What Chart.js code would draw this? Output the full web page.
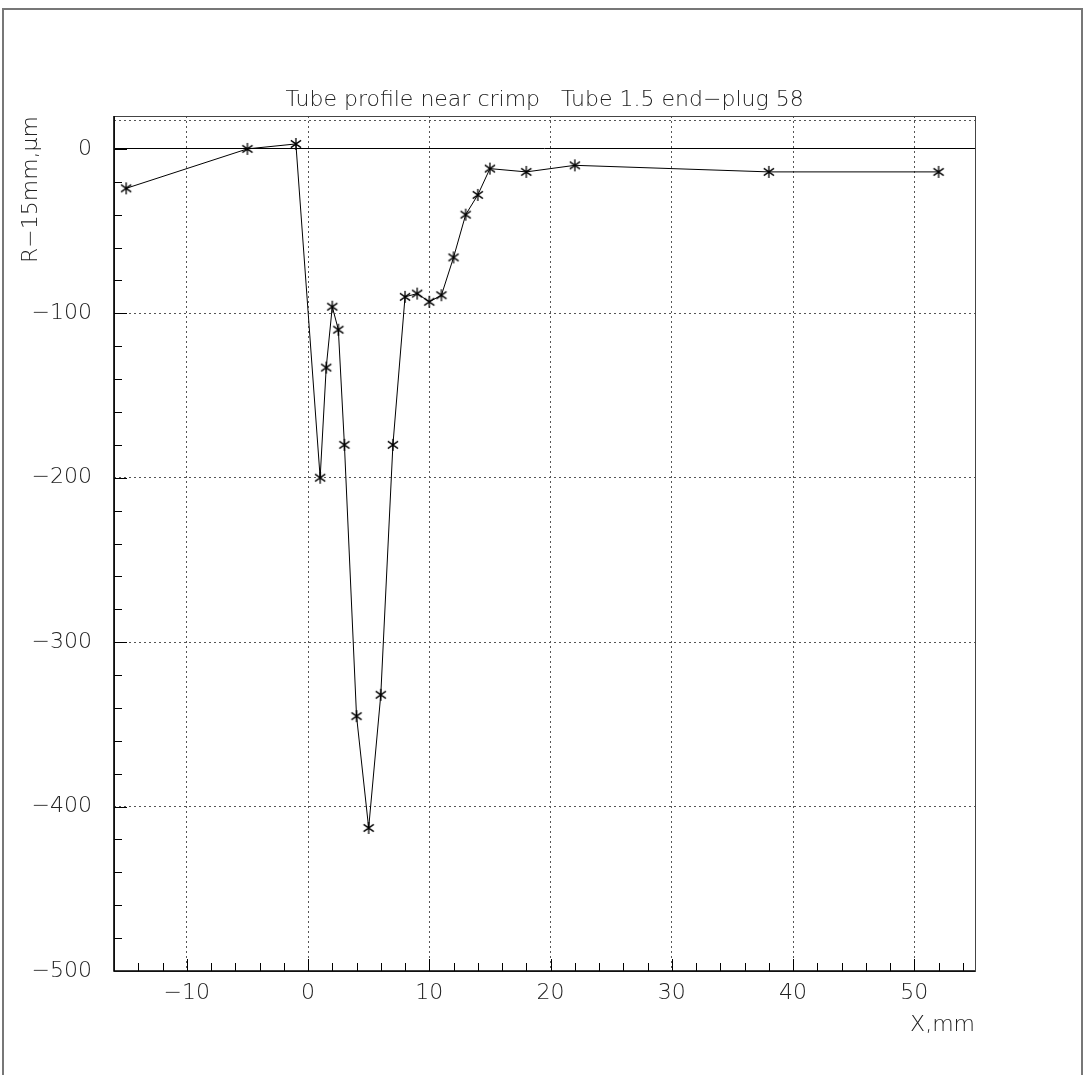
<!DOCTYPE html>
<html>
<head>
<meta charset="utf-8">
<script src="https://cdn.jsdelivr.net/npm/chart.js@4.4.0/dist/chart.umd.min.js"></script>
<style>
  html, body { margin: 0; padding: 0; background: #fff; }
  canvas { display: block; }
</style>
</head>
<body>
<canvas id="chart" width="1085" height="1075"></canvas>
<script>
const xValues = [-15, -5, -1, 1, 1.5, 2, 2.5, 3, 4, 5, 6, 7, 8, 9, 10, 11, 12, 13, 14, 15, 18, 22, 38, 52];
const yValues = [-24, 0, 3, -200, -133, -96, -110, -180, -345, -413, -332, -180, -90, -88, -93, -89, -66, -40, -28, -12, -14, -10, -14, -14];

const xTickLabels = [-10, 0, 10, 20, 30, 40, 50];
const yTickLabels = [0, -100, -200, -300, -400, -500];

const titleText = 'Tube profile near crimp   Tube 1.5 end\u2212plug 58';
const xTitle = 'X,mm';
const yTitle = 'R\u221215mm,\u03bcm';

const FONT = 'DejaVu Sans';
const WEIGHT = 200;
const SIZE = 22;

// asterisk marker: vertical bar + X
function makeStar(r) {
  const c = document.createElement('canvas');
  c.width = c.height = 2 * r + 2;
  const g = c.getContext('2d');
  const m = r + 1;
  g.strokeStyle = '#000';
  g.lineWidth = 1.3;
  g.beginPath();
  g.moveTo(m, m - r); g.lineTo(m, m + r);
  const dx = r * 0.85, dy = r * 0.6;
  g.moveTo(m - dx, m - dy); g.lineTo(m + dx, m + dy);
  g.moveTo(m - dx, m + dy); g.lineTo(m + dx, m - dy);
  g.stroke();
  return c;
}
const star = makeStar(6);

const framePlugin = {
  id: 'frame',
  beforeDraw(chart) {
    const g = chart.ctx;
    g.save();
    g.fillStyle = '#fff';
    g.fillRect(0, 0, chart.width, chart.height);
    g.strokeStyle = '#777';
    g.lineWidth = 2;
    g.beginPath();
    g.moveTo(3, chart.height + 5);
    g.lineTo(3, 9);
    g.lineTo(1082, 9);
    g.lineTo(1082, chart.height + 5);
    g.stroke();
    g.restore();
  },
  beforeDatasetsDraw(chart) {
    // dotted line just under the top frame
    const g = chart.ctx;
    const a = chart.chartArea;
    g.save();
    g.strokeStyle = '#555';
    g.lineWidth = 1;
    g.setLineDash([2, 3]);
    g.beginPath();
    g.moveTo(a.left, a.top + 4.5); g.lineTo(a.right, a.top + 4.5);
    g.stroke();
    g.restore();
  },
  afterDraw(chart) {
    const g = chart.ctx;
    const a = chart.chartArea;
    const xs = chart.scales.x, ys = chart.scales.y;
    g.save();
    // plot box
    g.strokeStyle = '#444';
    g.lineWidth = 1;
    g.strokeRect(a.left + 0.5, a.top + 0.5, a.right - a.left, a.bottom - a.top);
    g.strokeStyle = '#000';
    g.lineWidth = 1.6;
    g.beginPath();
    g.moveTo(a.left, a.top); g.lineTo(a.left, a.bottom); g.lineTo(a.right, a.bottom);
    g.stroke();
    // inward tick marks
    g.lineWidth = 1;
    g.beginPath();
    for (let v = -14; v <= 54; v += 2) {
      const p = Math.round(xs.getPixelForValue(v)) + 0.5;
      const len = v % 10 === 0 ? 12 : 8;
      g.moveTo(p, a.bottom); g.lineTo(p, a.bottom - len);
    }
    for (let v = 0; v >= -480; v -= 20) {
      const p = Math.round(ys.getPixelForValue(v)) + 0.5;
      const len = v % 100 === 0 ? 13 : 8;
      g.moveTo(a.left, p); g.lineTo(a.left + len, p);
    }
    g.stroke();
    // title
    g.fillStyle = '#222';
    g.font = WEIGHT + ' ' + SIZE + 'px "' + FONT + '"';
    g.textAlign = 'center';
    g.textBaseline = 'alphabetic';
    g.fillText(titleText, (a.left + a.right) / 2, a.top - 10);
    g.restore();
  }
};

const labelFont = { family: FONT, size: SIZE, weight: WEIGHT };

new Chart(document.getElementById('chart'), {
  type: 'scatter',
  data: {
    datasets: [{
      data: xValues.map((x, i) => ({ x: x, y: yValues[i] })),
      showLine: true,
      borderColor: '#000',
      borderWidth: 1,
      pointStyle: star,
      pointRadius: 6,
      pointHoverRadius: 6
    }]
  },
  options: {
    responsive: false,
    animation: false,
    events: [],
    layout: { padding: { left: 0, right: 110, top: 116, bottom: 0 } },
    plugins: { legend: { display: false }, tooltip: { enabled: false }, title: { display: false } },
    scales: {
      x: {
        type: 'linear',
        min: -16, max: 55,
        afterBuildTicks: s => { s.ticks = xTickLabels.map(v => ({ value: v })); },
        afterFit: s => { s.height = 104; },
        ticks: {
          color: '#222', padding: 9, maxRotation: 0,
          font: labelFont,
          callback: v => (v < 0 ? '\u2212' + Math.abs(v) : String(v))
        },
        grid: { color: '#555', lineWidth: 1, drawTicks: false },
        border: { display: false, dash: [2, 3] },
        title: {
          display: true, text: xTitle, align: 'end', color: '#222',
          font: labelFont, padding: { top: 0, bottom: 37 }
        }
      },
      y: {
        type: 'linear',
        min: -500, max: 20,
        afterBuildTicks: s => { s.ticks = yTickLabels.map(v => ({ value: v })); },
        afterFit: s => { s.width = 114; },
        ticks: {
          color: '#222', padding: 22,
          font: labelFont,
          callback: v => (v < 0 ? '\u2212' + Math.abs(v) : String(v))
        },
        grid: {
          color: c => (c.tick && c.tick.value === 0 ? '#000' : '#555'),
          lineWidth: 1, drawTicks: false
        },
        border: {
          display: false,
          dash: c => (c.tick && c.tick.value === 0 ? [] : [2, 3])
        },
        title: {
          display: true, text: yTitle, align: 'end', color: '#222',
          font: labelFont, padding: { top: 18, bottom: 0 }
        }
      }
    }
  },
  plugins: [framePlugin]
});
</script>
</body>
</html>
